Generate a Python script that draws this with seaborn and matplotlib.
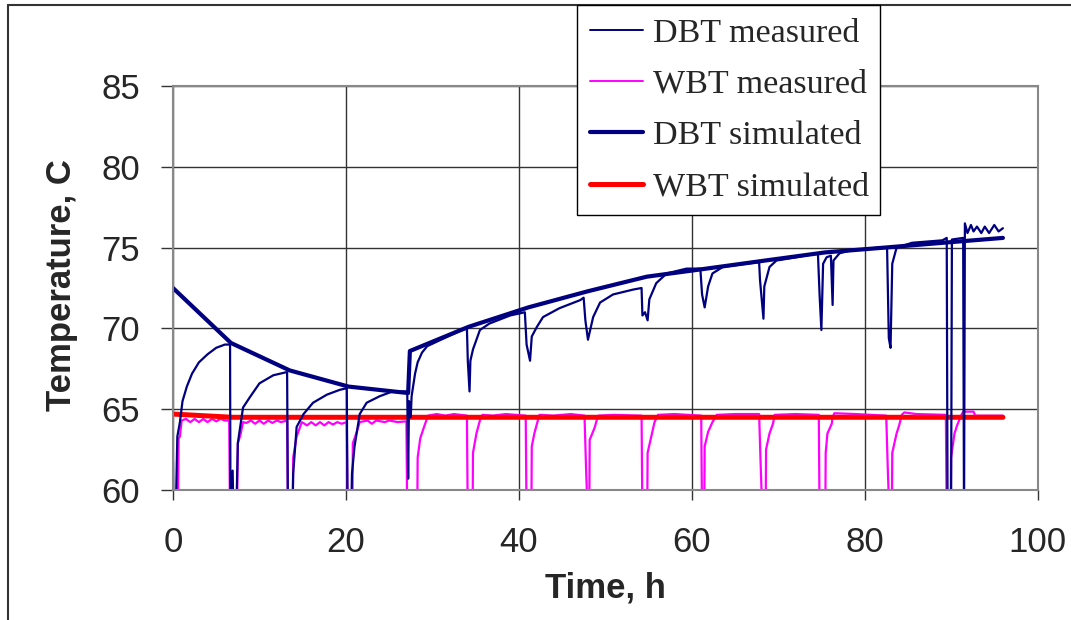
import numpy as np
import pandas as pd
import seaborn as sns
import matplotlib.pyplot as plt
from matplotlib.lines import Line2D

# DBT measured (time h, temperature C); 58 = below the axis floor
dbt_meas_t = [0.0, 0.05, 0.3, 0.5, 0.8, 1.1, 1.6, 2.2, 3.0, 4.0, 5.0, 6.0, 6.6,
              6.65, 6.9, 7.0, 7.3, 7.5, 8.1, 8.9, 10.0, 11.6, 13.2,
              13.3, 13.8, 13.9, 14.3, 15.1, 16.2, 17.8, 19.3, 20.1,
              20.2, 20.6, 20.7, 21.0, 21.6, 22.4, 23.9, 25.4, 27.0,
              27.1, 27.2, 27.3, 27.5, 27.6, 28.0, 28.3, 28.8, 29.4, 31.0, 33.0, 34.0,
              34.1, 34.3, 34.4, 34.7, 35.5, 36.6, 39.0, 40.7,
              40.9, 41.3, 41.5, 42.1, 42.8, 44.7, 47.1, 47.5,
              47.7, 48.0, 48.6, 49.4, 50.9, 53.2, 54.2,
              54.3, 54.6, 54.9, 55.1, 55.9, 57.1, 59.4, 61.0,
              61.2, 61.5, 61.9, 62.4, 63.6, 66.3, 67.8,
              67.9, 68.3, 68.4, 69.0, 69.8, 72.1, 74.6,
              74.8, 75.0, 75.2, 75.6, 76.1, 76.3, 76.4, 77.1, 78.6, 81.7, 82.6,
              82.8, 83.0, 83.2, 83.7, 85.5, 89.0, 89.5,
              89.6, 90.0, 90.1, 91.4, 91.5, 91.6, 91.9, 92.3, 92.6, 93.0, 93.5,
              93.9, 94.4, 95.0, 95.5, 96.0]
dbt_meas_y = [61.8, 58.0, 58.0, 63.3, 64.2, 65.5, 66.4, 67.2, 67.9, 68.4, 68.8, 69.0, 69.0,
              58.0, 61.2, 58.0, 58.0, 62.9, 65.1, 65.75, 66.6, 67.1, 67.3,
              58.0, 58.0, 61.0, 63.9, 64.7, 65.4, 65.9, 66.2, 66.3,
              58.0, 58.0, 61.0, 62.7, 64.7, 65.4, 65.8, 66.1, 66.1,
              66.0, 60.7, 65.5, 64.5, 65.8, 67.2, 67.9, 68.5, 68.9, 69.3, 69.8, 70.0,
              68.0, 66.1, 68.0, 68.7, 69.9, 70.3, 70.8, 71.0,
              69.0, 68.0, 69.5, 70.1, 70.7, 71.25, 71.75, 71.9,
              70.5, 69.3, 70.7, 71.6, 72.1, 72.4, 72.5,
              70.8, 71.0, 70.5, 71.8, 72.8, 73.4, 73.7, 73.7,
              72.1, 71.3, 72.6, 73.4, 73.8, 74.0, 74.1,
              73.0, 70.6, 72.6, 73.8, 74.2, 74.4, 74.65,
              72.0, 69.9, 74.0, 74.4, 74.5, 71.45, 74.2, 74.65, 74.85, 75.0, 75.0,
              69.4, 68.8, 74.0, 75.0, 75.3, 75.45, 75.6,
              58.0, 58.0, 75.5, 75.6, 58.0, 76.5, 75.9, 76.4, 76.0, 76.3, 75.9,
              76.3, 75.9, 76.4, 76.0, 76.2]

# WBT measured
wbt_meas_t = [0.2, 0.55, 0.65, 0.8, 1.0, 1.5, 2.0, 2.5, 3.0, 3.5, 4.0, 4.5, 5.0, 5.5, 6.0, 6.5,
              6.6, 7.4, 7.5, 7.8, 8.1, 8.5, 9.0, 9.5, 10.0, 10.5, 11.0, 11.5, 12.0, 12.5, 13.2,
              13.3, 13.85, 13.9, 14.3, 14.9, 15.5, 16.0, 16.5, 17.0, 17.5, 18.0, 18.5, 19.0, 19.5, 20.1,
              20.2, 20.75, 20.8, 21.2, 21.6, 22.5, 23.0, 23.5, 24.5, 25.0, 26.0, 27.0,
              27.1, 28.25, 28.3, 28.6, 29.1, 29.5, 30.5, 31.5, 32.5, 34.0,
              34.1, 34.65, 34.7, 35.1, 35.5, 35.8, 37.0, 38.5, 40.8,
              40.9, 41.45, 41.5, 41.8, 42.2, 42.4, 44.0, 46.0, 47.6,
              47.8, 48.0, 48.15, 48.2, 48.8, 49.0, 49.2, 51.0, 54.2,
              54.3, 54.85, 54.9, 55.4, 55.7, 56.1, 58.0, 61.1,
              61.2, 61.45, 61.5, 61.9, 62.4, 62.9, 65.0, 67.8,
              67.95, 68.2, 68.55, 68.6, 69.0, 69.4, 69.6, 72.0, 74.7,
              74.8, 75.45, 75.5, 75.7, 76.2, 76.3, 76.5, 79.0, 82.5,
              82.7, 82.9, 83.15, 83.2, 83.7, 84.0, 84.3, 84.6, 86.0, 89.4,
              89.5, 89.95, 90.0, 90.4, 90.7, 91.2, 91.4, 92.6, 92.8, 96.0]
wbt_meas_y = [58.0, 58.0, 63.2, 63.3, 64.3, 64.4, 64.2, 64.4, 64.2, 64.4, 64.2, 64.4, 64.25, 64.4, 64.3, 64.3,
              58.0, 58.0, 62.9, 63.4, 64.2, 64.15, 64.3, 64.1, 64.3, 64.1, 64.3, 64.15, 64.3, 64.2, 64.3,
              58.0, 58.0, 62.0, 63.3, 64.2, 64.0, 64.2, 64.0, 64.2, 64.0, 64.2, 64.05, 64.2, 64.1, 64.2,
              58.0, 58.0, 62.9, 63.5, 64.2, 64.3, 64.1, 64.3, 64.2, 64.3, 64.2, 64.25,
              58.0, 58.0, 62.0, 63.2, 64.0, 64.6, 64.7, 64.6, 64.7, 64.6,
              58.0, 58.0, 62.3, 63.5, 64.3, 64.65, 64.6, 64.7, 64.6,
              58.0, 58.0, 62.7, 63.5, 64.3, 64.65, 64.6, 64.7, 64.6,
              61.0, 58.0, 58.0, 63.1, 63.9, 64.3, 64.6, 64.65, 64.6,
              58.0, 58.0, 62.3, 63.5, 64.2, 64.65, 64.7, 64.6,
              58.0, 58.0, 62.7, 63.6, 64.2, 64.65, 64.7, 64.7,
              62.0, 58.0, 58.0, 62.5, 63.5, 64.1, 64.65, 64.7, 64.65,
              58.0, 58.0, 62.3, 63.5, 64.1, 64.5, 64.75, 64.7, 64.6,
              61.0, 58.0, 58.0, 62.3, 63.5, 64.0, 64.65, 64.8, 64.7, 64.65,
              58.0, 58.0, 62.0, 63.5, 64.0, 64.65, 64.85, 64.85, 64.6, 64.6]

# simulated
dbt_sim_t = [0.0, 6.7, 13.5, 20.3, 27.2, 27.4, 34.2, 41.1, 48.0, 54.8, 61.7, 68.5, 75.4, 82.3, 89.1, 96.0]
dbt_sim_y = [72.5, 69.1, 67.4, 66.4, 66.0, 68.6, 70.1, 71.3, 72.3, 73.2, 73.7, 74.2, 74.7, 75.0, 75.3, 75.6]
wbt_sim_t = [0.0, 6.9, 96.0]
wbt_sim_y = [64.7, 64.5, 64.5]

sns.set_style("white")
plt.rcParams['font.family'] = ['Liberation Sans', 'DejaVu Sans']

W, H = 1071, 620
fig = plt.figure(figsize=(W / 100, H / 100), dpi=100)
ax = fig.add_axes([173 / W, 1 - 490 / H, (1037.5 - 173) / W, (490 - 86) / H])

sns.lineplot(x=wbt_meas_t, y=wbt_meas_y, ax=ax, color='#ff00ff', lw=1.6,
             estimator=None, sort=False)
sns.lineplot(x=wbt_sim_t, y=wbt_sim_y, ax=ax, color='#ff0000', lw=3.6,
             estimator=None, sort=False)
sns.lineplot(x=dbt_meas_t, y=dbt_meas_y, ax=ax, color='#000080', lw=1.6,
             estimator=None, sort=False)
sns.lineplot(x=dbt_sim_t, y=dbt_sim_y, ax=ax, color='#000080', lw=3.0,
             estimator=None, sort=False)

ax.set_xlim(0, 100)
ax.set_ylim(60, 85)
ax.set_xticks(range(0, 101, 20))
ax.set_yticks(range(60, 86, 5))
ax.grid(True, color='#333333', lw=1.0)
for s in ax.spines.values():
    s.set_color('#888888')
    s.set_linewidth(1.5)
ax.tick_params(axis='y', direction='out', length=8.6, width=1, color='#333333',
               labelsize=25, pad=15, left=True)
ax.tick_params(axis='x', direction='out', length=7.2, width=1, color='#333333',
               labelsize=25, pad=19, bottom=True)

ax.set_xlabel('Time, h', fontsize=25, fontweight='bold', va='center')
ax.xaxis.set_label_coords((605 - 173) / 864.5, (490 - 588) / 404)
ax.set_ylabel('Temperature, C', fontsize=25, fontweight='bold', va='center')
ax.yaxis.set_label_coords((62 - 173) / 864.5, (490 - 285) / 404)

handles = [Line2D([], [], color='#000080', lw=1.4),
           Line2D([], [], color='#ff00ff', lw=1.4),
           Line2D([], [], color='#000080', lw=3.0),
           Line2D([], [], color='#ff0000', lw=3.6)]
labels = ['DBT measured', 'WBT measured', 'DBT simulated', 'WBT simulated']
leg = fig.legend(handles, labels, loc='upper left',
                 bbox_to_anchor=(577 / W, 1 - 212 / H, 303 / W, 207 / H),
                 mode='expand', borderaxespad=0, fancybox=False, framealpha=1,
                 edgecolor='black', prop={'family': 'Liberation Serif', 'size': 24.5},
                 handlelength=1.56, handletextpad=0.3, labelspacing=0.6,
                 borderpad=0.38)
leg.get_frame().set_linewidth(1.0)

fig.add_artist(Line2D([8 / W, 8 / W], [0, 1 - 5 / H], transform=fig.transFigure,
                      color='#333333', lw=1.5))
fig.add_artist(Line2D([8 / W, 1], [1 - 5 / H, 1 - 5 / H], transform=fig.transFigure,
                      color='#333333', lw=1.5))

fig.savefig('out.png', dpi=100)
